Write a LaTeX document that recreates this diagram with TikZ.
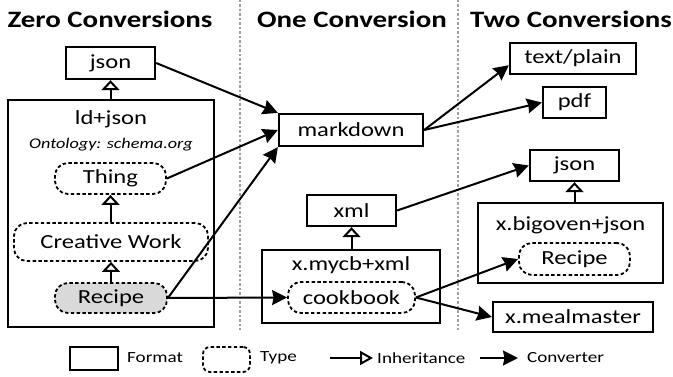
\documentclass[tikz,border=0pt]{standalone}
\usepackage{fontspec}
\setmainfont{Carlito}[FakeStretch=1.23]
\usetikzlibrary{arrows.meta,calc}
\tikzset{
  fmt/.style={draw, line width=2.3pt, inner sep=0pt, font=\fontsize{20}{24}\selectfont},
  typ/.style={draw, line width=1.8pt, dash pattern=on 3.4pt off 2.4pt, rounded corners=13pt, inner sep=0pt, font=\fontsize{20}{24}\selectfont},
  lbl/.style={inner sep=0pt, font=\fontsize{20}{24}\selectfont},
  ttl/.style={inner sep=0pt, font=\fontsize{23.5}{28}\selectfont\bfseries, anchor=base},
  leg/.style={inner sep=0pt, font=\fontsize{15.5}{18}\selectfont, anchor=west},
  conv/.style={line width=2pt, -{Stealth[length=15pt,width=15pt,inset=1.5pt]}},
  inh/.style={line width=2pt, -{Triangle[open,length=10pt,width=18pt,line width=2pt]}},
  sep/.style={gray!75, line width=1.6pt, dash pattern=on 2.5pt off 2pt}
}
\begin{document}
\begin{tikzpicture}[x=1pt,y=-1pt]
\useasboundingbox (0,0) rectangle (673,377);
% separators
\coordinate (s1t) at (240,0); \coordinate (s1b) at (240,330);
\coordinate (s2t) at (458,0); \coordinate (s2b) at (458,330);
\draw[sep] (s1t) -- (s1b);
\draw[sep] (s2t) -- (s2b);
% titles
\node[ttl] (t1) at (110,28) {Zero Conversions};
\node[ttl] (t2) at (352,28) {One Conversion};
\node[ttl] (t3) at (571,28) {Two Conversions};
% zero conversions
\node[fmt, minimum width=89pt, minimum height=32pt] (json1) at (110.5,63) {json};
\node[fmt, minimum width=206pt, minimum height=227pt] (ld) at (111,213.5) {};
\node[lbl] (ldt) at (111,119) {ld+json};
\node[lbl, font=\fontsize{14.8}{18}\selectfont\itshape] (ont) at (111,145) {Ontology: schema.org};
\node[typ, minimum width=111pt, minimum height=31pt] (thing) at (110.5,178.5) {Thing};
\node[typ, minimum width=194pt, minimum height=38pt] (cw) at (111,242) {Creative Work};
\node[typ, fill=gray!30, minimum width=112pt, minimum height=30pt] (recipe) at (111,298) {Recipe};
\draw[inh] (ld.north -| json1.south) -- (json1.south);
\draw[inh] (cw.north -| thing.south) -- (thing.south);
\draw[inh] (recipe.north) -- (cw.south -| recipe.north);
% one conversion
\node[fmt, minimum width=144pt, minimum height=32pt] (md) at (351,130) {markdown};
\node[fmt, minimum width=89pt, minimum height=31pt] (xml) at (351.5,210.5) {xml};
\node[fmt, minimum width=178pt, minimum height=73pt] (mycb) at (351,286.5) {};
\node[lbl] (mycbt) at (351,265) {x.mycb+xml};
\node[typ, minimum width=127pt, minimum height=31pt] (cook) at (351.5,297.5) {cookbook};
\draw[inh] (mycb.north -| xml.south) -- (xml.south);
% two conversions
\node[fmt, minimum width=126pt, minimum height=31pt] (tp) at (573,58.5) {text/plain};
\node[fmt, minimum width=63pt, minimum height=31pt] (pdf) at (574.5,102.5) {pdf};
\node[fmt, minimum width=89pt, minimum height=31pt] (json2) at (574.5,165.5) {json};
\node[fmt, minimum width=185pt, minimum height=80pt] (bo) at (570.5,243) {};
\node[lbl] (bot) at (570.5,225) {x.bigoven+json};
\node[typ, minimum width=111pt, minimum height=32pt] (recipe2) at (574.5,259) {Recipe};
\node[fmt, minimum width=160pt, minimum height=30pt] (mm) at (573,317) {x.mealmaster};
\draw[inh] (bo.north -| json2.south) -- (json2.south);
% converters
\draw[conv] (json1.east) -- (md.north west);
\draw[conv] (thing.east) -- (md.west);
\draw[conv] (recipe.east) -- (md.south west);
\draw[conv] (recipe.east) -- (cook.west);
\draw[conv] (md.east) -- (tp.186);
\draw[conv] (md.east) -- (pdf.west);
\draw[conv] (xml.east) -- (json2.west);
\draw[conv] (cook.east) -- (recipe2.west);
\draw[conv] (cook.east) -- (mm.west);
% legend
\node[fmt, minimum width=48pt, minimum height=23pt] (lf) at (94,358.5) {};
\node[leg] (lft) at (127,358) {Format};
\node[typ, rounded corners=7pt, minimum width=47pt, minimum height=25pt] (lt) at (226.5,359.5) {};
\node[leg] (ltt) at (260,358) {Type};
\coordinate (li1) at (330,358);
\coordinate (li2) at (373,358);
\draw[line width=2pt, -{Triangle[open,length=13pt,width=14pt,line width=2pt]}] (li1) -- (li2);
\node[leg] (lit) at (377,358) {Inheritance};
\coordinate (lc1) at (480,358);
\coordinate (lc2) at (518,358);
\draw[conv] (lc1) -- (lc2);
\node[leg] (lct) at (527,358) {Converter};
\end{tikzpicture}
\end{document}
